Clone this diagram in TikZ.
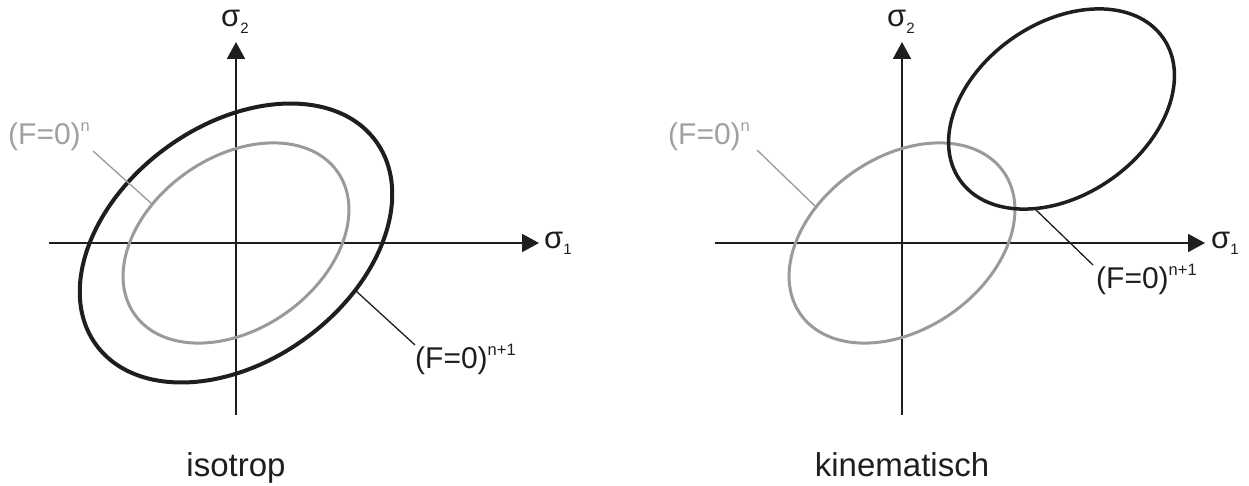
\documentclass[tikz,border=0pt]{standalone}
\usepackage{fontspec}
\setmainfont{Liberation Sans}
\usetikzlibrary{arrows.meta}
\definecolor{inkblack}{HTML}{1E1E1E}
\definecolor{ellgray}{HTML}{9A9A9A}
\definecolor{txtgray}{HTML}{A0A0A0}
\newcommand{\supx}[1]{\raisebox{13.5pt}{\fontsize{16.5}{16.5}\selectfont #1}}
\newcommand{\subx}[1]{\raisebox{-6.5pt}{\fontsize{15}{15}\selectfont #1}}
\tikzset{
  axis/.style={draw=inkblack, line width=2pt, -{Triangle[length=17pt,width=18pt]}},
  axisline/.style={draw=inkblack, line width=2pt},
  blackell/.style={draw=inkblack, line width=4pt},
  grayell/.style={draw=ellgray, line width=3pt},
  graylead/.style={draw=ellgray, line width=1.3pt},
  blacklead/.style={draw=inkblack, line width=1.3pt},
  sig/.style={inner sep=0pt, anchor=base west, font=\fontsize{31}{31}\selectfont, text=inkblack},
  lab/.style={inner sep=0pt, anchor=base west, font=\fontsize{30}{30}\selectfont},
  captext/.style={inner sep=0pt, anchor=base, font=\fontsize{33}{33}\selectfont, text=inkblack}
}
\begin{document}
\begin{tikzpicture}[x=1pt,y=1pt]
\useasboundingbox (0,0) rectangle (1249,-486);
% ---------- left panel: isotrop ----------
\coordinate (O1) at (236,-243);
\coordinate (v1b) at (236,-415);
\coordinate (v1t) at (236,-42);
\coordinate (h1l) at (49,-243);
\coordinate (h1r) at (539,-243);
\draw[axisline] (v1b) -- (O1);
\draw[axis] (O1) -- (v1t);
\draw[axisline] (h1l) -- (O1);
\draw[axis] (O1) -- (h1r);
\draw[blackell, rotate around={36:(O1)}] (O1) ellipse [x radius=173pt, y radius=118pt];
\draw[grayell, rotate around={35:(O1)}] (O1) ellipse [x radius=124pt, y radius=86pt];
\node[sig] (s2l) at (221,-27) {σ\subx{2}};
\node[sig] (s1l) at (544,-248) {σ\subx{1}};
\node[lab, text=txtgray] (gl) at (8,-145) {(F=0)\supx{n}};
\node[lab, text=inkblack] (bl) at (415,-368.5) {(F=0)\supx{n+1}};
\coordinate (gle) at (152,-204);
\coordinate (gls) at (93,-151);
\coordinate (ble) at (356,-291);
\coordinate (bls) at (415,-345);
\draw[graylead] (gls) -- (gle);
\draw[blacklead] (ble) -- (bls);
\node[captext] (iso) at (236,-476) {isotrop};
% ---------- right panel: kinematisch ----------
\coordinate (O2) at (902,-243);
\coordinate (C2) at (1061.5,-109);
\coordinate (v2b) at (902,-415);
\coordinate (v2t) at (902,-42);
\coordinate (h2l) at (715,-243);
\coordinate (h2r) at (1205,-243);
\draw[axisline] (v2b) -- (O2);
\draw[axis] (O2) -- (v2t);
\draw[axisline] (h2l) -- (O2);
\draw[axis] (O2) -- (h2r);
\draw[grayell, rotate around={35:(O2)}] (O2) ellipse [x radius=124pt, y radius=86pt];
\draw[blackell, line width=3.5pt, rotate around={35:(C2)}] (C2) ellipse [x radius=124pt, y radius=86pt];
\node[sig] (s2r) at (887,-27) {σ\subx{2}};
\node[sig] (s1r) at (1211,-248) {σ\subx{1}};
\node[lab, text=txtgray] (gr) at (668,-145) {(F=0)\supx{n}};
\node[lab, text=inkblack] (br) at (1096,-288.5) {(F=0)\supx{n+1}};
\coordinate (gre) at (816,-207);
\coordinate (grs) at (757,-150);
\coordinate (bre) at (1036,-210);
\coordinate (brs) at (1093,-265);
\draw[graylead] (grs) -- (gre);
\draw[blacklead] (bre) -- (brs);
\node[captext] (kin) at (902,-476) {kinematisch};
\end{tikzpicture}
\end{document}
